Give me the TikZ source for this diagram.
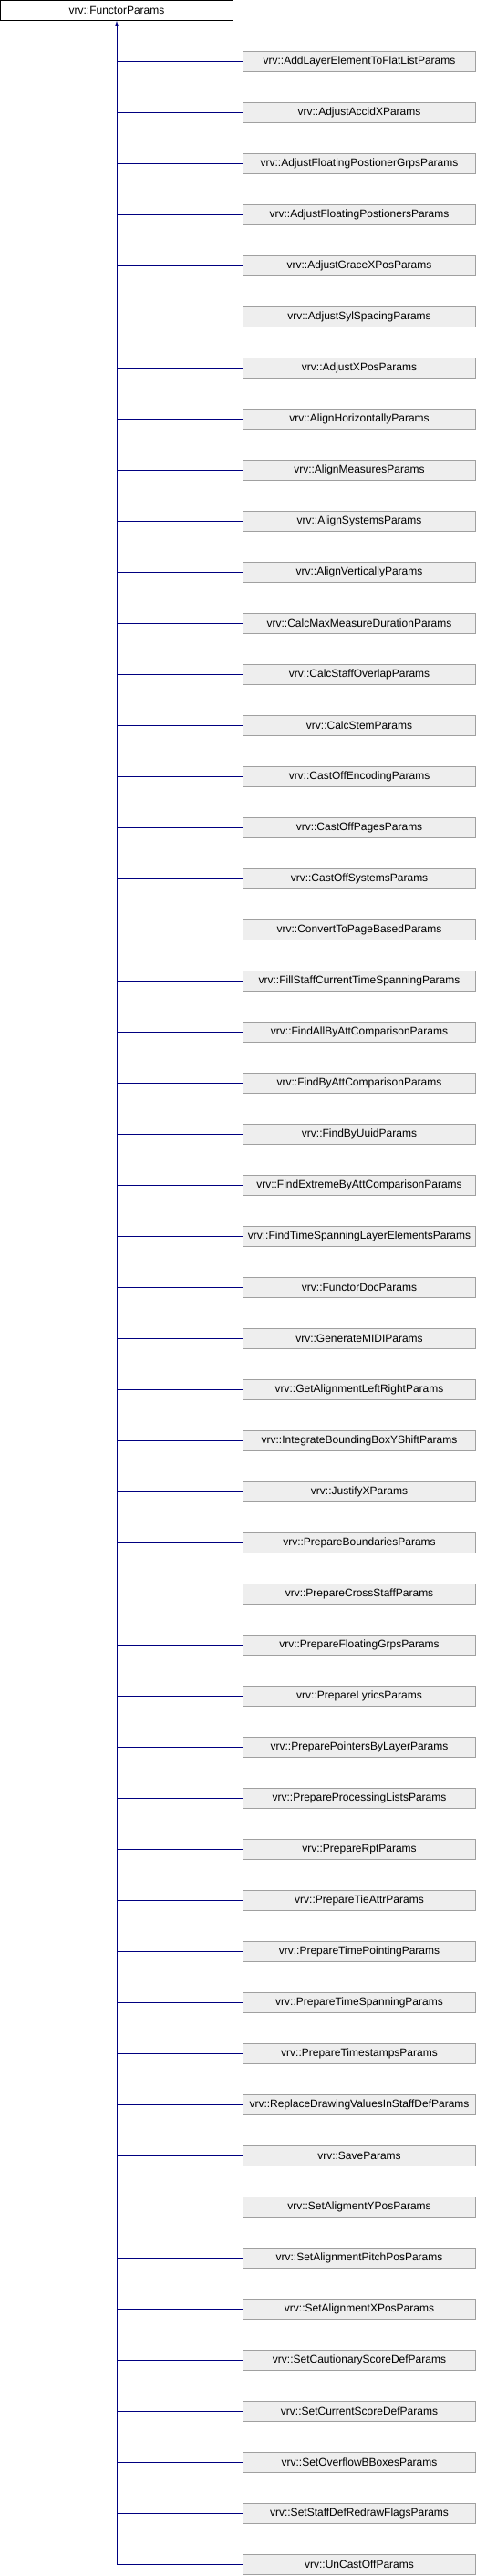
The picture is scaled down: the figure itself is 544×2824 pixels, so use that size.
\documentclass[tikz,border=0pt]{standalone}
\usepackage{fontspec}
\setmainfont{Liberation Sans}
\definecolor{edgeblue}{RGB}{0,0,128}
\definecolor{boxgrey}{RGB}{238,238,238}
\definecolor{rimgrey}{RGB}{160,160,160}
\begin{document}
\begin{tikzpicture}[x=1pt,y=1pt,node distance=56pt,
    every node/.style={font=\fontsize{12pt}{14pt}\selectfont, inner sep=0pt,
      line width=1pt, text width=255pt, align=center, minimum height=22pt},
    parentbox/.style={draw=black, fill=white},
    subbox/.style={draw=rimgrey, fill=boxgrey},
    link/.style={draw=edgeblue, line width=1pt}]
            \useasboundingbox (0,0) rectangle (544,-2824);
            \node (0) [parentbox] at (128,-11.5) {vrv::FunctorParams};
            \node (1) [subbox] at (394,-67.5) {vrv::AddLayerElementToFlatListParams};
            \node (2) [subbox, below of=1] {vrv::AdjustAccidXParams};
            \node (3) [subbox, below of=2] {vrv::AdjustFloatingPostionerGrpsParams};
            \node (4) [subbox, below of=3] {vrv::AdjustFloatingPostionersParams};
            \node (5) [subbox, below of=4] {vrv::AdjustGraceXPosParams};
            \node (6) [subbox, below of=5] {vrv::AdjustSylSpacingParams};
            \node (7) [subbox, below of=6] {vrv::AdjustXPosParams};
            \node (8) [subbox, below of=7] {vrv::AlignHorizontallyParams};
            \node (9) [subbox, below of=8] {vrv::AlignMeasuresParams};
            \node (10) [subbox, below of=9] {vrv::AlignSystemsParams};
            \node (11) [subbox, below of=10] {vrv::AlignVerticallyParams};
            \node (12) [subbox, below of=11] {vrv::CalcMaxMeasureDurationParams};
            \node (13) [subbox, below of=12] {vrv::CalcStaffOverlapParams};
            \node (14) [subbox, below of=13] {vrv::CalcStemParams};
            \node (15) [subbox, below of=14] {vrv::CastOffEncodingParams};
            \node (16) [subbox, below of=15] {vrv::CastOffPagesParams};
            \node (17) [subbox, below of=16] {vrv::CastOffSystemsParams};
            \node (18) [subbox, below of=17] {vrv::ConvertToPageBasedParams};
            \node (19) [subbox, below of=18] {vrv::FillStaffCurrentTimeSpanningParams};
            \node (20) [subbox, below of=19] {vrv::FindAllByAttComparisonParams};
            \node (21) [subbox, below of=20] {vrv::FindByAttComparisonParams};
            \node (22) [subbox, below of=21] {vrv::FindByUuidParams};
            \node (23) [subbox, below of=22] {vrv::FindExtremeByAttComparisonParams};
            \node (24) [subbox, below of=23] {vrv::FindTimeSpanningLayerElementsParams};
            \node (25) [subbox, below of=24] {vrv::FunctorDocParams};
            \node (26) [subbox, below of=25] {vrv::GenerateMIDIParams};
            \node (27) [subbox, below of=26] {vrv::GetAlignmentLeftRightParams};
            \node (28) [subbox, below of=27] {vrv::IntegrateBoundingBoxYShiftParams};
            \node (29) [subbox, below of=28] {vrv::JustifyXParams};
            \node (30) [subbox, below of=29] {vrv::PrepareBoundariesParams};
            \node (31) [subbox, below of=30] {vrv::PrepareCrossStaffParams};
            \node (32) [subbox, below of=31] {vrv::PrepareFloatingGrpsParams};
            \node (33) [subbox, below of=32] {vrv::PrepareLyricsParams};
            \node (34) [subbox, below of=33] {vrv::PreparePointersByLayerParams};
            \node (35) [subbox, below of=34] {vrv::PrepareProcessingListsParams};
            \node (36) [subbox, below of=35] {vrv::PrepareRptParams};
            \node (37) [subbox, below of=36] {vrv::PrepareTieAttrParams};
            \node (38) [subbox, below of=37] {vrv::PrepareTimePointingParams};
            \node (39) [subbox, below of=38] {vrv::PrepareTimeSpanningParams};
            \node (40) [subbox, below of=39] {vrv::PrepareTimestampsParams};
            \node (41) [subbox, below of=40] {vrv::ReplaceDrawingValuesInStaffDefParams};
            \node (42) [subbox, below of=41] {vrv::SaveParams};
            \node (43) [subbox, below of=42] {vrv::SetAligmentYPosParams};
            \node (44) [subbox, below of=43] {vrv::SetAlignmentPitchPosParams};
            \node (45) [subbox, below of=44] {vrv::SetAlignmentXPosParams};
            \node (46) [subbox, below of=45] {vrv::SetCautionaryScoreDefParams};
            \node (47) [subbox, below of=46] {vrv::SetCurrentScoreDefParams};
            \node (48) [subbox, below of=47] {vrv::SetOverflowBBoxesParams};
            \node (49) [subbox, below of=48] {vrv::SetStaffDefRedrawFlagsParams};
            \node (50) [subbox, below of=49] {vrv::UnCastOffParams};

            % trunk with the inheritance arrow
            \coordinate (end) at (0.south |- 50.west);
            \draw [link, -latex] (end) -- (0.south);

            \path [link]
            (1.west) edge (0.south |- 1.west)
            (2.west) edge (0.south |- 2.west)
            (3.west) edge (0.south |- 3.west)
            (4.west) edge (0.south |- 4.west)
            (5.west) edge (0.south |- 5.west)
            (6.west) edge (0.south |- 6.west)
            (7.west) edge (0.south |- 7.west)
            (8.west) edge (0.south |- 8.west)
            (9.west) edge (0.south |- 9.west)
            (10.west) edge (0.south |- 10.west)
            (11.west) edge (0.south |- 11.west)
            (12.west) edge (0.south |- 12.west)
            (13.west) edge (0.south |- 13.west)
            (14.west) edge (0.south |- 14.west)
            (15.west) edge (0.south |- 15.west)
            (16.west) edge (0.south |- 16.west)
            (17.west) edge (0.south |- 17.west)
            (18.west) edge (0.south |- 18.west)
            (19.west) edge (0.south |- 19.west)
            (20.west) edge (0.south |- 20.west)
            (21.west) edge (0.south |- 21.west)
            (22.west) edge (0.south |- 22.west)
            (23.west) edge (0.south |- 23.west)
            (24.west) edge (0.south |- 24.west)
            (25.west) edge (0.south |- 25.west)
            (26.west) edge (0.south |- 26.west)
            (27.west) edge (0.south |- 27.west)
            (28.west) edge (0.south |- 28.west)
            (29.west) edge (0.south |- 29.west)
            (30.west) edge (0.south |- 30.west)
            (31.west) edge (0.south |- 31.west)
            (32.west) edge (0.south |- 32.west)
            (33.west) edge (0.south |- 33.west)
            (34.west) edge (0.south |- 34.west)
            (35.west) edge (0.south |- 35.west)
            (36.west) edge (0.south |- 36.west)
            (37.west) edge (0.south |- 37.west)
            (38.west) edge (0.south |- 38.west)
            (39.west) edge (0.south |- 39.west)
            (40.west) edge (0.south |- 40.west)
            (41.west) edge (0.south |- 41.west)
            (42.west) edge (0.south |- 42.west)
            (43.west) edge (0.south |- 43.west)
            (44.west) edge (0.south |- 44.west)
            (45.west) edge (0.south |- 45.west)
            (46.west) edge (0.south |- 46.west)
            (47.west) edge (0.south |- 47.west)
            (48.west) edge (0.south |- 48.west)
            (49.west) edge (0.south |- 49.west)
            (50.west) edge (0.south |- 50.west);

\end{tikzpicture}
\end{document}
